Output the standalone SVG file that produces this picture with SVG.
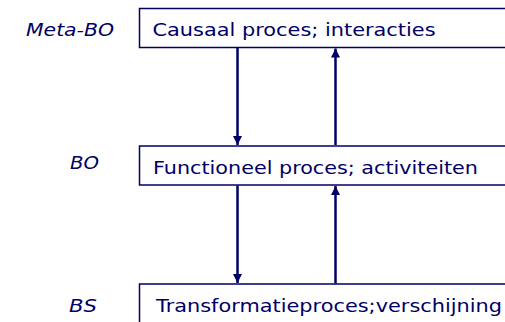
<svg xmlns="http://www.w3.org/2000/svg" width="505" height="322" viewBox="0 0 505 322">
  <style>
    .box { fill: #ffffff; stroke: #000066; stroke-width: 1.5; }
    .txt { font-family: "DejaVu Sans", Verdana, sans-serif; font-size: 17px; fill: #000066; }
    .lvl { font-family: "DejaVu Sans", Verdana, sans-serif; font-size: 17px; font-style: italic; fill: #000066; }
    .arrow { stroke: #000066; stroke-width: 2.5; fill: none; marker-end: url(#head); }
  </style>
  <defs>
    <marker id="head" viewBox="0 0 10 10" refX="10" refY="5" markerWidth="4" markerHeight="3.6" markerUnits="strokeWidth" orient="auto">
      <path d="M0,0 L10,5 L0,10 z" fill="#000066"/>
    </marker>
  </defs>
  <rect width="505" height="322" fill="#ffffff"/>

  <g id="connectors">
    <line class="arrow" x1="237.5" y1="48" x2="237.5" y2="145"/>
    <line class="arrow" x1="335.5" y1="145" x2="335.5" y2="48.5"/>
    <line class="arrow" x1="237.5" y1="185.5" x2="237.5" y2="283"/>
    <line class="arrow" x1="335.5" y1="283.5" x2="335.5" y2="186"/>
  </g>

  <g id="meta-bo">
    <text class="lvl" x="26" y="35.5" textLength="88" lengthAdjust="spacingAndGlyphs">Meta-BO</text>
    <rect class="box" x="139.5" y="8.5" width="380" height="39"/>
    <text class="txt" x="152.5" y="35.5" textLength="283" lengthAdjust="spacingAndGlyphs">Causaal proces; interacties</text>
  </g>

  <g id="bo">
    <text class="lvl" x="70" y="169" textLength="29" lengthAdjust="spacingAndGlyphs">BO</text>
    <rect class="box" x="139.5" y="146" width="380" height="39"/>
    <text class="txt" x="153" y="173.5" textLength="325" lengthAdjust="spacingAndGlyphs">Functioneel proces; activiteiten</text>
  </g>

  <g id="bs">
    <text class="lvl" x="69" y="311.5" textLength="28" lengthAdjust="spacingAndGlyphs">BS</text>
    <rect class="box" x="139.5" y="284" width="380" height="50"/>
    <text class="txt" x="156" y="311.5" textLength="346" lengthAdjust="spacingAndGlyphs">Transformatieproces;verschijning</text>
  </g>
</svg>
